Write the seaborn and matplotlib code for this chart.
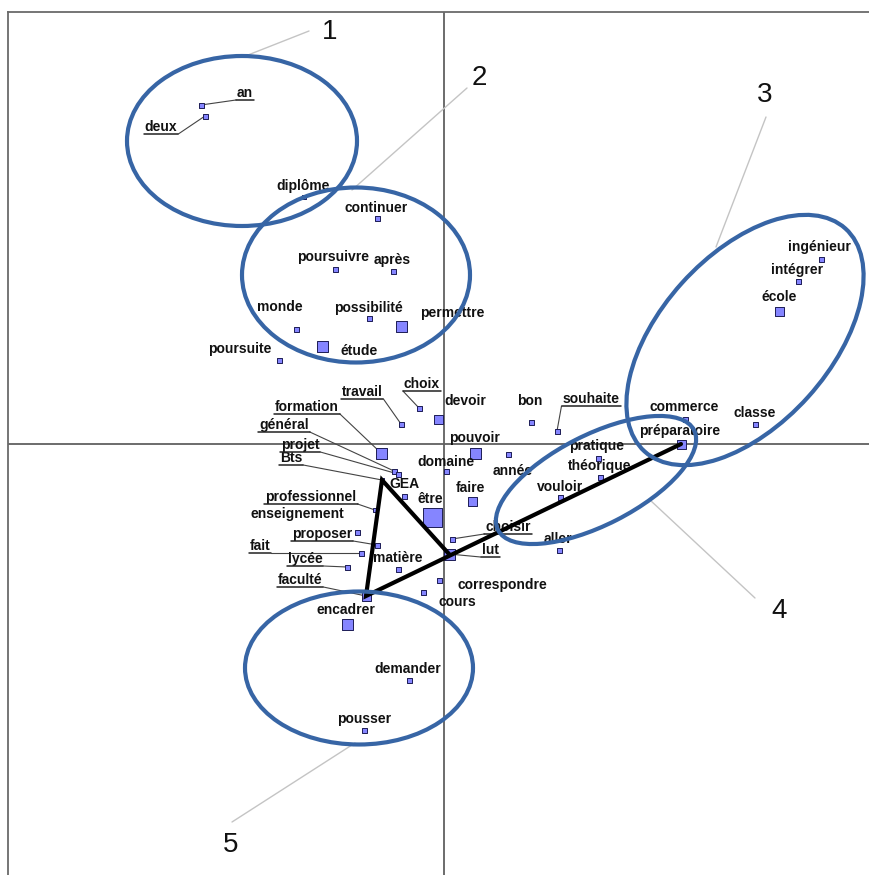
import matplotlib
matplotlib.use("Agg")
import matplotlib.pyplot as plt
import numpy as np
import pandas as pd
import seaborn as sns
from matplotlib.patches import Ellipse

# ---------------- data (factor coordinates) ----------------
words = ["an", "deux", "diplôme", "continuer", "poursuivre", "après", "monde",
         "possibilité", "permettre", "poursuite", "étude", "travail", "choix",
         "devoir", "bon", "souhaite", "commerce", "classe", "ingénieur",
         "intégrer", "école", "préparatoire", "pratique", "théorique", "vouloir",
         "formation", "général", "projet", "Bts", "GEA", "pouvoir", "domaine",
         "année", "faire", "être", "professionnel", "enseignement", "choisir",
         "aller", "proposer", "fait", "lut", "lycée", "matière", "correspondre",
         "faculté", "cours", "encadrer", "demander", "pousser"]
fx = [-2.43, -2.39, -1.40, -0.67, -1.09, -0.51, -1.48,
      -0.75, -0.43, -1.65, -1.22, -0.43, -0.25,
      -0.06, 0.87, 1.13, 2.41, 3.11, 3.77,
      3.54, 3.35, 2.37, 1.54, 1.56, 1.16,
      -0.63, -0.50, -0.46, -0.62, -0.40, 0.31, 0.02,
      0.64, 0.28, -0.12, -0.69, -0.87, 0.08,
      1.15, -0.67, -0.83, 0.05, -0.97, -0.46, -0.05,
      -0.78, -0.21, -0.97, -0.35, -0.80]
fy = [3.39, 3.28, 2.47, 2.26, 1.75, 1.73, 1.15,
      1.26, 1.18, 0.84, 0.98, 0.20, 0.36,
      0.25, 0.22, 0.13, 0.25, 0.20, 1.85,
      1.63, 1.33, 0.00, -0.14, -0.33, -0.53,
      -0.09, -0.27, -0.30, -0.36, -0.52, -0.09, -0.27,
      -0.10, -0.57, -0.73, -0.66, -0.88, -0.95,
      -1.06, -1.01, -1.09, -1.10, -1.23, -1.25, -1.36,
      -1.52, -1.48, -1.80, -2.36, -2.86]
weight = [2, 2, 1, 2, 2, 2, 2,
          2, 4, 2, 4, 2, 2,
          3, 2, 2, 2, 2, 2,
          2, 3, 3, 2, 2, 2,
          4, 2, 2, 1, 2, 4, 2,
          2, 3, 5, 1, 2, 2,
          2, 2, 2, 4, 2, 2, 2,
          3, 2, 4, 2, 2]
underlined = {"an", "deux", "travail", "choix", "souhaite", "formation",
              "général", "projet", "Bts", "professionnel", "proposer", "fait",
              "lycée", "faculté", "choisir", "lut"}
path_words = ["lut", "Bts", "faculté", "préparatoire"]
cluster_ids = ["1", "2", "3", "4", "5"]

# ---------------- layout ----------------
label_off = {  # pixel offsets of label centre from point (x right, y down)
    "an": (44, -12), "deux": (-44, 11), "diplôme": (-1, -11), "continuer": (-1, -10),
    "poursuivre": (-2, -12), "après": (-1, -11), "monde": (-16, -22),
    "possibilité": (-1, -10), "permettre": (51, -13), "poursuite": (-39, -11),
    "étude": (37, 5), "travail": (-39, -32), "choix": (3, -24), "devoir": (27, -18),
    "bon": (-1, -21), "souhaite": (34, -32), "commerce": (-1, -12), "classe": (0, -11),
    "ingénieur": (-2, -12), "intégrer": (-1, -11), "école": (0, -14),
    "préparatoire": (-1, -13), "pratique": (-1, -12), "théorique": (0, -11),
    "vouloir": (0, -10), "formation": (-74, -46), "général": (-110, -46),
    "projet": (-98, -29), "Bts": (-91, -22), "GEA": (0, -12), "pouvoir": (-1, -15),
    "domaine": (0, -9), "année": (5, 17), "faire": (-2, -13), "être": (-2, -18),
    "professionnel": (-64, -13), "enseignement": (-60, -18), "choisir": (56, -12),
    "aller": (-1, -11), "proposer": (-55, -11), "fait": (-101, -7), "lut": (41, -4),
    "lycée": (-42, -8), "matière": (0, -11), "correspondre": (63, 5),
    "faculté": (-66, -16), "cours": (34, 10), "encadrer": (-1, -14),
    "demander": (-1, -11), "pousser": (0, -11)}
side_px = {1: 3.5, 2: 5, 3: 9, 4: 11, 5: 19}
sizes = {k: (v * 0.72) ** 2 for k, v in side_px.items()}

ellipses = [((-2.02, 3.03), 2.30, 1.70, 0), ((-0.88, 1.69), 2.28, 1.75, 0),
            ((3.01, 1.04), 3.00, 1.70, 48), ((1.52, -0.36), 2.20, 0.90, 27),
            ((-0.85, -2.24), 2.28, 1.53, 0)]
num_pos = [(-1.14, 4.12), (0.35, 3.66), (3.21, 3.49), (3.35, -1.67), (-2.13, -4.01)]
num_lead = [((-1.35, 4.13), (-1.96, 3.89)), ((0.23, 3.56), (-0.92, 2.54)),
            ((3.22, 3.27), (2.72, 1.97)), ((3.11, -1.54), (2.06, -0.56)),
            ((-2.12, -3.78), (-0.89, -2.99))]

df = pd.DataFrame({"word": words, "x": fx, "y": fy, "weight": weight})

sns.set_theme(style="white")
plt.rcParams["font.family"] = ["Liberation Sans", "DejaVu Sans"]

fig = plt.figure(figsize=(8.69, 8.75), dpi=100)
fig.patch.set_facecolor("white")
ax = fig.add_axes([8 / 869, 0, 861 / 869, 863 / 875])
ax.set_xlim(-4.36, 4.25)
ax.set_ylim(-4.31, 4.32)

ax.axhline(0, color="#606060", lw=1.3, zorder=1)
ax.axvline(0, color="#606060", lw=1.3, zorder=1)

sns.scatterplot(data=df, x="x", y="y", size="weight", sizes=sizes, marker="s",
                color="#8585ff", edgecolor="#1c1c55", linewidth=0.7,
                legend=False, ax=ax, zorder=3)

texts = {}
for w, xx, yy in zip(words, fx, fy):
    dx, dy = label_off[w]
    t = ax.annotate(w, xy=(xx, yy), xytext=(dx, -dy), textcoords="offset pixels",
                    ha="center", va="center", fontsize=10, fontweight="bold",
                    color="#111111", zorder=4)
    texts[w] = (t, xx, yy)

fig.canvas.draw()
renderer = fig.canvas.get_renderer()
inv = ax.transData.inverted()
for w in words:
    if w not in underlined:
        continue
    t, xx, yy = texts[w]
    bb = t.get_window_extent(renderer)
    px, py = ax.transData.transform((xx, yy))
    cy = py - label_off[w][1]  # centre y in display coords
    uy = cy - 7
    x0, x1 = bb.x0 - 1, bb.x1 + 1
    (ux0, uyd), (ux1, _) = inv.transform([(x0, uy), (x1, uy)])
    ax.plot([ux0, ux1], [uyd, uyd], color="#222222", lw=1.1, zorder=4)
    ex = ux1 if xx > (ux0 + ux1) / 2 else ux0
    ax.plot([ex, xx], [uyd, yy], color="#444444", lw=0.8, zorder=2.5)

idx = [words.index(w) for w in path_words]
ax.plot([fx[i] for i in idx], [fy[i] for i in idx], color="black", lw=3.0,
        solid_joinstyle="miter", zorder=5)

for (c, wd, ht, ang) in ellipses:
    ax.add_patch(Ellipse(c, wd, ht, angle=ang, fill=False, edgecolor="#3765a5",
                         lw=3.0, zorder=6))

for lab, pos, (p0, p1) in zip(cluster_ids, num_pos, num_lead):
    ax.plot([p0[0], p1[0]], [p0[1], p1[1]], color="#c4c4c4", lw=1.0, zorder=2)
    ax.text(pos[0], pos[1], lab, ha="center", va="center", fontsize=20,
            color="#111111", zorder=7)

ax.set_xticks([])
ax.set_yticks([])
ax.set_xlabel("")
ax.set_ylabel("")
for s in ["right", "bottom"]:
    ax.spines[s].set_visible(False)
for s in ["left", "top"]:
    ax.spines[s].set_color("#6a6a6a")
    ax.spines[s].set_linewidth(1.3)

fig.savefig("out.png", dpi=100, facecolor="white")
